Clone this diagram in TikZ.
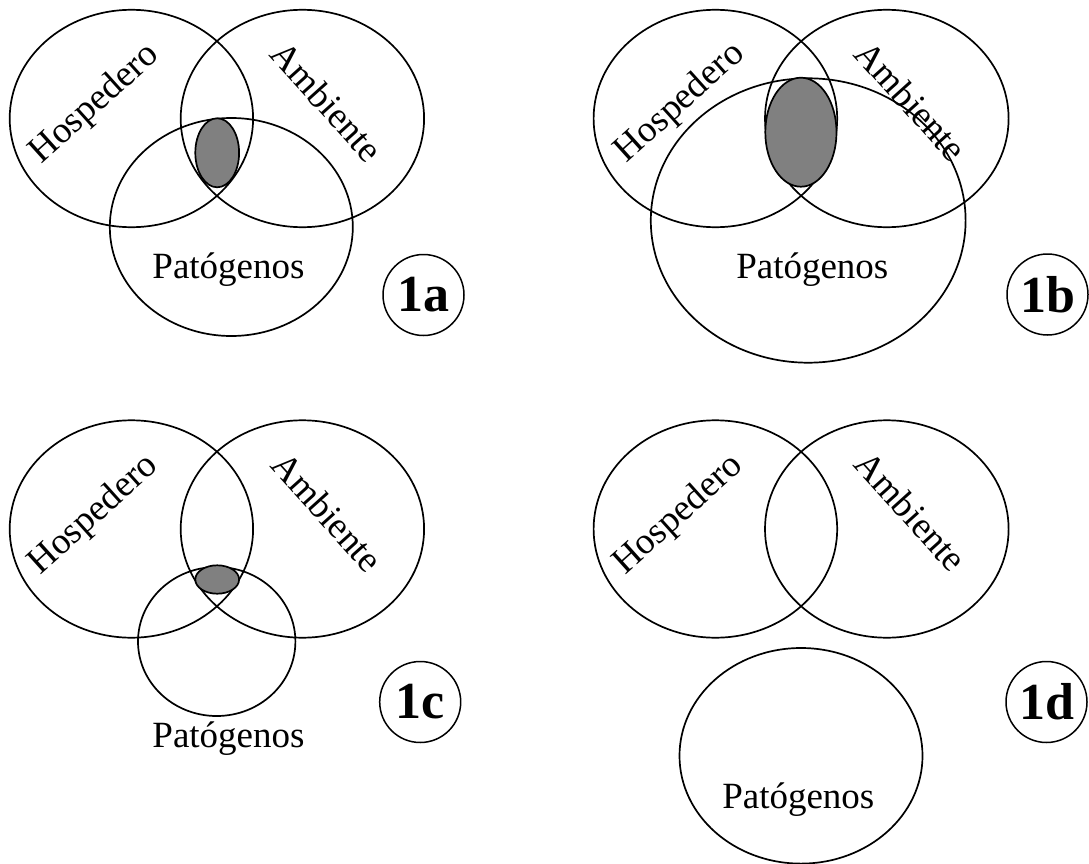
\documentclass[tikz,border=0pt]{standalone}
\usepackage{fontspec}
\setmainfont{Liberation Serif}
\definecolor{coregray}{RGB}{128,128,128}
\begin{document}
\begin{tikzpicture}[x=1pt,y=-1pt,
  venn/.style={draw=black, line width=1.7pt},
  core/.style={draw=black, fill=coregray, line width=1.7pt},
  lbl/.style={font=\fontsize{37}{44}\selectfont, inner sep=0pt},
  tag/.style={circle, draw=black, line width=1.5pt, minimum size=81pt, inner sep=0pt, font=\fontsize{52}{60}\selectfont\bfseries}]
\useasboundingbox (0,0) rectangle (1089,864);
% ---- 1a ----
\draw[venn] (131.4,118.5) ellipse [x radius=121.7, y radius=108.7];
\draw[venn] (302.4,118.5) ellipse [x radius=121.7, y radius=108.7];
\draw[venn] (231.3,227) ellipse [x radius=121.5, y radius=109];
\draw[core] (217.2,152.8) ellipse [x radius=21.9, y radius=34.5];
\node[lbl, rotate=42] (ha) at (95,104.5) {Hospedero};
\node[lbl, rotate=-48] (aa) at (327,101.7) {Ambiente};
\node[lbl, anchor=base] (pa) at (228.5,278.3) {Patógenos};
\node[tag] (ta) at (423.5,295) {1a};
% ---- 1b ----
\draw[venn] (715.4,118.5) ellipse [x radius=121.8, y radius=108.7];
\draw[venn] (886.8,118.5) ellipse [x radius=121.8, y radius=108.7];
\draw[venn] (808.2,220.5) ellipse [x radius=157.4, y radius=142.2];
\draw[core] (800.9,132.2) ellipse [x radius=35.6, y radius=54.5];
\node[lbl, rotate=42] (hb) at (680.3,103.3) {Hospedero};
\node[lbl, rotate=-48] (ab) at (911,100.8) {Ambiente};
\node[lbl, anchor=base] (pb) at (812.3,278.3) {Patógenos};
\node[tag] (tb) at (1047.5,294.5) {1b};
% ---- 1c ----
\draw[venn] (131.4,529) ellipse [x radius=121.7, y radius=108.7];
\draw[venn] (302.4,529) ellipse [x radius=121.7, y radius=108.7];
\draw[venn] (216.7,641.5) ellipse [x radius=78.7, y radius=74.5];
\draw[core] (217.2,579.5) ellipse [x radius=21.9, y radius=14.2];
\node[lbl, rotate=42] (hc) at (93.8,515.3) {Hospedero};
\node[lbl, rotate=-48] (ac) at (327.4,512) {Ambiente};
\node[lbl, anchor=base] (pc) at (228.5,747) {Patógenos};
\node[tag] (tc) at (420.2,702) {1c};
% ---- 1d ----
\draw[venn] (715.4,529) ellipse [x radius=121.8, y radius=108.7];
\draw[venn] (886.8,529) ellipse [x radius=121.8, y radius=108.7];
\draw[venn] (801,755.8) ellipse [x radius=121.5, y radius=107.8];
\node[lbl, rotate=42] (hd) at (678.6,515.3) {Hospedero};
\node[lbl, rotate=-48] (ad) at (911,511.2) {Ambiente};
\node[lbl, anchor=base] (pd) at (798.3,808) {Patógenos};
\node[tag] (td) at (1046.5,702) {1d};
\end{tikzpicture}
\end{document}
